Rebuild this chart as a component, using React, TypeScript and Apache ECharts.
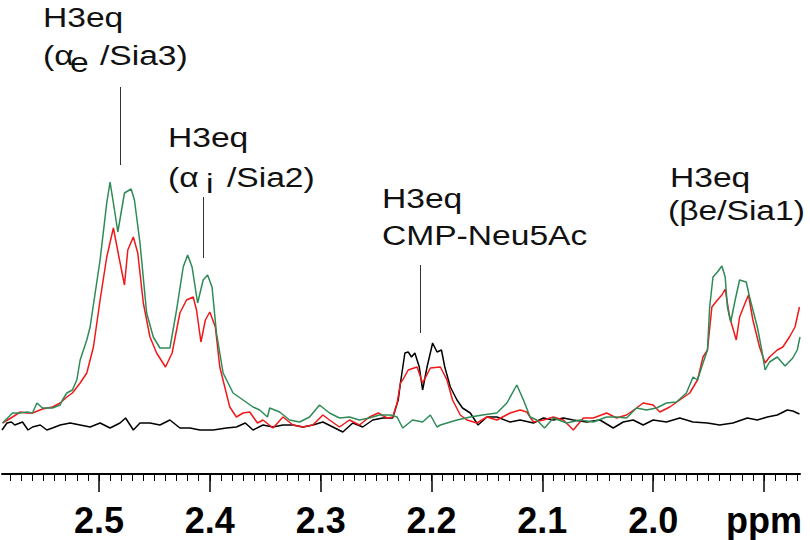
import React, { useEffect, useRef } from 'react';
import * as echarts from 'echarts';

// x axis (ppm) ticks and labels
const majorTicks = [2.5, 2.4, 2.3, 2.2, 2.1, 2.0, 1.9];
const tickLabels = ['2.5', '2.4', '2.3', '2.2', '2.1', '2.0', 'ppm'];

// spectra: [ppm, intensity]
const greenSpectrum: [number, number][] = [
  [2.587, 1.6], [2.578, 5.6], [2.571, 5.6], [2.565, 6.0], [2.56, 5.6], [2.556, 9.6], [2.551, 7.6],
  [2.542, 7.6], [2.535, 8.8], [2.533, 10.8], [2.529, 13.6], [2.524, 14.8], [2.52, 18.8], [2.517, 26.8],
  [2.511, 34.8], [2.508, 40.0], [2.499, 66.8], [2.493, 89.6], [2.49, 98.0], [2.486, 86.8], [2.483, 78.0],
  [2.477, 93.6], [2.471, 95.2], [2.468, 90.8], [2.463, 73.6], [2.457, 45.6], [2.451, 36.0], [2.445, 31.6],
  [2.436, 31.6], [2.43, 46.8], [2.424, 64.0], [2.42, 68.8], [2.416, 64.0], [2.411, 49.6], [2.406, 58.8],
  [2.402, 60.8], [2.398, 56.0], [2.394, 37.6], [2.388, 21.6], [2.379, 13.6], [2.37, 10.8], [2.361, 8.0],
  [2.355, 6.8], [2.348, 4.0], [2.346, 7.6], [2.337, 6.0], [2.328, 2.8], [2.319, 2.0], [2.31, 4.0],
  [2.301, 8.8], [2.292, 5.6], [2.283, 3.6], [2.274, 4.0], [2.265, 2.8], [2.256, 3.6], [2.247, 4.8],
  [2.237, 4.8], [2.231, 4.0], [2.226, -0.4], [2.217, 2.8], [2.208, 2.0], [2.201, 4.8], [2.195, 0],
  [2.192, 0.8], [2.186, 1.6], [2.177, 2.8], [2.165, 4.0], [2.154, 4.8], [2.141, 5.6], [2.132, 9.6],
  [2.123, 16.8], [2.117, 10.8], [2.111, 4.0], [2.105, 2.8], [2.098, -0.4], [2.09, 3.6], [2.078, 1.6],
  [2.066, 2.8], [2.054, 2.0], [2.042, 4.0], [2.033, 4.0], [2.024, 3.6], [2.015, 7.6], [2.006, 6.8],
  [1.997, 7.6], [1.988, 9.6], [1.979, 10.0], [1.97, 13.6], [1.964, 20.0], [1.96, 18.8], [1.955, 25.6],
  [1.951, 30.8], [1.949, 48.0], [1.946, 60.0], [1.942, 62.0], [1.938, 64.4], [1.935, 60.0], [1.933, 48.0],
  [1.93, 42.0], [1.926, 50.8], [1.922, 58.8], [1.916, 58.0], [1.913, 52.0], [1.906, 40.0], [1.902, 30.8],
  [1.899, 22.8], [1.895, 26.0], [1.888, 28.0], [1.881, 24.4], [1.874, 27.6], [1.87, 30.8], [1.8675, 36.0],
];

const redSpectrum: [number, number][] = [
  [2.587, 1.6], [2.578, 4.0], [2.571, 6.0], [2.565, 5.6], [2.56, 5.6], [2.551, 7.2], [2.542, 8.0],
  [2.535, 9.6], [2.529, 12.0], [2.524, 13.6], [2.517, 17.6], [2.511, 21.6], [2.505, 32.0], [2.499, 50.8],
  [2.493, 68.0], [2.487, 79.6], [2.482, 68.0], [2.477, 56.8], [2.474, 70.8], [2.469, 76.0], [2.465, 69.6],
  [2.46, 49.6], [2.454, 36.0], [2.448, 29.6], [2.44, 24.0], [2.434, 29.6], [2.427, 45.6], [2.421, 50.8],
  [2.415, 52.0], [2.412, 46.8], [2.408, 34.0], [2.404, 42.8], [2.4, 46.0], [2.395, 40.0], [2.391, 24.0],
  [2.382, 8.0], [2.376, 4.0], [2.37, 5.6], [2.364, 6.0], [2.357, 1.6], [2.352, 2.8], [2.343, -0.4],
  [2.334, 4.0], [2.325, 0.8], [2.316, 0], [2.307, 0.8], [2.298, 4.8], [2.292, 2.8], [2.283, 0],
  [2.274, 2.8], [2.265, 0.8], [2.256, 4.0], [2.248, 5.6], [2.24, 3.6], [2.235, 4.0], [2.231, 9.6],
  [2.228, 17.6], [2.226, 18.8], [2.221, 22.8], [2.213, 24.0], [2.208, 17.6], [2.201, 23.6], [2.192, 24.0],
  [2.186, 18.8], [2.181, 10.8], [2.174, 4.8], [2.168, 2.8], [2.159, 1.6], [2.15, 4.0], [2.141, 2.8],
  [2.129, 5.6], [2.12, 6.8], [2.114, 6.0], [2.108, 2.0], [2.099, 2.8], [2.09, 4.0], [2.081, 2.8],
  [2.072, -1.2], [2.063, 3.6], [2.054, 3.6], [2.042, 5.6], [2.033, 3.6], [2.024, 4.8], [2.015, 7.6],
  [2.009, 9.6], [2.0, 8.8], [1.994, 6.0], [1.985, 8.0], [1.976, 10.8], [1.967, 13.6], [1.96, 18.8],
  [1.955, 28.0], [1.951, 30.8], [1.947, 48.0], [1.942, 50.8], [1.938, 52.8], [1.935, 55.2], [1.931, 44.0],
  [1.925, 34.8], [1.922, 44.0], [1.917, 49.6], [1.914, 52.8], [1.91, 42.8], [1.904, 32.0], [1.899, 25.6],
  [1.895, 28.0], [1.888, 30.8], [1.883, 32.0], [1.877, 36.0], [1.872, 40.0], [1.868, 48.0],
];

const blackSpectrum: [number, number][] = [
  [2.5875, -1.2], [2.583, 1.6], [2.579, 2.0], [2.576, 0.8], [2.569, 2.0], [2.564, -1.2], [2.56, 0],
  [2.553, 0.8], [2.547, -1.2], [2.542, -0.4], [2.535, 0.8], [2.526, 1.6], [2.517, 0.8], [2.508, 0],
  [2.499, 1.6], [2.49, -0.4], [2.481, 1.6], [2.476, 3.6], [2.469, -1.2], [2.463, 1.6], [2.454, 1.6],
  [2.445, 0.8], [2.436, 2.8], [2.427, -0.4], [2.418, -0.4], [2.409, -1.2], [2.397, -1.2], [2.385, -0.4],
  [2.376, 0], [2.368, 1.6], [2.361, -1.2], [2.352, 0.8], [2.343, 0], [2.334, 0.8], [2.325, 0.8],
  [2.316, 0], [2.307, 0.8], [2.298, 2.0], [2.289, 0], [2.28, -2.0], [2.271, 1.6], [2.262, 0],
  [2.253, 2.8], [2.244, 3.6], [2.235, 3.6], [2.23, 10.8], [2.228, 17.6], [2.224, 29.6], [2.221, 30.0],
  [2.218, 28.0], [2.215, 29.6], [2.211, 24.0], [2.208, 14.8], [2.204, 24.0], [2.2, 31.6], [2.199, 33.6],
  [2.195, 30.0], [2.191, 30.8], [2.188, 24.0], [2.183, 16.0], [2.177, 10.8], [2.172, 7.6], [2.165, 5.6],
  [2.158, 0.8], [2.15, 4.0], [2.141, 4.0], [2.129, 2.0], [2.12, 2.8], [2.108, 1.6], [2.099, 3.6],
  [2.09, 2.8], [2.081, 3.6], [2.072, 2.8], [2.06, 2.0], [2.048, 2.8], [2.036, -0.4], [2.027, 2.0],
  [2.018, 2.8], [2.009, 0.8], [2.0, 2.8], [1.988, 2.0], [1.976, 3.6], [1.964, 2.0], [1.951, 1.6],
  [1.94, 0.8], [1.928, 1.6], [1.915, 3.6], [1.906, 2.8], [1.897, 4.0], [1.888, 4.8], [1.879, 6.8],
  [1.874, 6.4], [1.868, 5.2],
];

// annotation pointer lines: [ppm, intensity top, intensity bottom]
const pointerLines: [number, number, number][] = [
  [2.481, 136, 104.8],
  [2.406, 92, 67.6],
  [2.2104, 64.8, 37.6],
];

const X_MIN = 1.8675;
const X_MAX = 2.5875;
const FONT = '"Liberation Sans", Arial, Helvetica, sans-serif';

function minorTickValues(): number[] {
  const vals: number[] = [];
  for (let i = 187; i <= 258; i++) vals.push(i / 100);
  return vals;
}

function txt(text: string, x: number, y: number, size = 28) {
  return {
    type: 'text',
    x,
    y,
    scaleX: 1.2,
    silent: true,
    style: {
      text,
      x: 0,
      y: 0,
      fill: '#111',
      font: `${size}px ${FONT}`,
      align: 'left',
      verticalAlign: 'middle',
    },
  };
}

export default function App() {
  const ref = useRef<HTMLDivElement>(null);

  useEffect(() => {
    if (!ref.current) return;
    const chart = echarts.init(ref.current, undefined, { renderer: 'svg' });
    const lineSeries = (name: string, data: [number, number][], color: string, z: number) => ({
      name,
      type: 'line',
      data,
      showSymbol: false,
      symbol: 'none',
      z,
      lineStyle: { color, width: 1.5 },
      itemStyle: { color },
      animation: false,
    });

    const black: any = lineSeries('control', blackSpectrum, '#000000', 2);
    black.markLine = {
      silent: true,
      symbol: ['none', 'none'],
      label: { show: false },
      lineStyle: { color: '#333', width: 1, type: 'solid' },
      data: pointerLines.map(([p, a, b]) => [{ coord: [p, a] }, { coord: [p, b] }]),
    };

    chart.setOption({
      animation: false,
      backgroundColor: '#ffffff',
      grid: { left: 2, right: 10, top: 0, bottom: 66 },
      xAxis: [
        {
          type: 'value',
          min: X_MIN,
          max: X_MAX,
          inverse: true,
          position: 'bottom',
          axisLine: { show: true, onZero: false, lineStyle: { color: '#000', width: 2 } },
          axisTick: {
            show: true,
            length: 18,
            customValues: majorTicks,
            lineStyle: { color: '#000', width: 1.5 },
          },
          axisLabel: {
            show: true,
            customValues: majorTicks,
            margin: 28,
            color: '#000',
            fontFamily: FONT,
            fontWeight: 'bold',
            fontSize: 36,
            formatter: (v: number) => {
              const i = majorTicks.findIndex((t) => Math.abs(t - v) < 1e-6);
              return i >= 0 ? tickLabels[i] : '';
            },
          },
          splitLine: { show: false },
        },
        {
          type: 'value',
          min: X_MIN,
          max: X_MAX,
          inverse: true,
          position: 'bottom',
          axisLine: { show: false, onZero: false },
          axisTick: {
            show: true,
            length: 7,
            customValues: minorTickValues(),
            lineStyle: { color: '#000', width: 1 },
          },
          axisLabel: { show: false },
          splitLine: { show: false },
        },
      ],
      yAxis: {
        type: 'value',
        min: -18.8,
        max: 170.8,
        show: false,
        splitLine: { show: false },
      },
      series: [
        black,
        lineSeries('sample A', redSpectrum, '#f01818', 3),
        lineSeries('sample B', greenSpectrum, '#2e8b57', 4),
      ],
      graphic: [
        txt('H3eq', 43, 17),
        txt('(α', 43, 55),
        txt('e', 70, 62),
        txt('/Sia3)', 100, 55),
        txt('H3eq', 168, 137),
        txt('(α', 168, 177),
        txt('i', 206, 183),
        txt('/Sia2)', 227, 177),
        txt('H3eq', 382, 198),
        txt('CMP-Neu5Ac', 382, 235),
        txt('H3eq', 670, 177),
        txt('(βe/Sia1)', 668, 210),
      ],
    });
    return () => chart.dispose();
  }, []);

  return (
    <div
      ref={ref}
      style={{ position: 'fixed', left: 0, top: 0, width: 810, height: 540, background: '#fff' }}
    />
  );
}
